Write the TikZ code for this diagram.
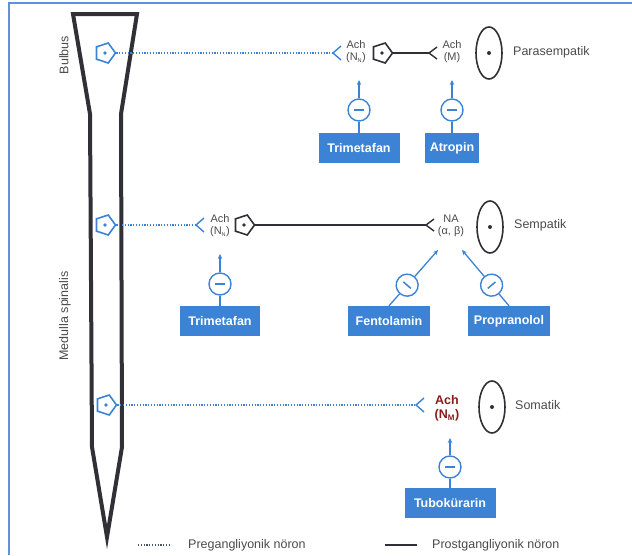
\documentclass[tikz,border=0pt]{standalone}
\usepackage{fontspec}
\setmainfont{Liberation Sans}
\usetikzlibrary{shapes.geometric,arrows.meta,calc}
\definecolor{myblue}{HTML}{3C83D6}
\definecolor{frameblue}{HTML}{5E93DC}
\definecolor{cordc}{HTML}{303036}
\definecolor{txt}{HTML}{4A4A4A}
\definecolor{darkred}{HTML}{8B1A1A}
\begin{document}
\begin{tikzpicture}[x=1pt,y=-1pt,
  pent/.style={regular polygon, regular polygon sides=5, shape border rotate=-90, draw, line width=1.6pt, minimum size=21pt, inner sep=0pt},
  bpent/.style={pent, draw=myblue},
  kpent/.style={pent, draw=cordc},
  preline/.style={myblue, line width=1.3pt, dash pattern=on 1.1pt off 1.7pt},
  postline/.style={cordc, line width=1.3pt},
  rec/.style={line width=1.4pt},
  lbl/.style={text=txt, font=\fontsize{11}{13}\selectfont, align=center, inner sep=0pt},
  drug/.style={fill=myblue, text=white, font=\bfseries\fontsize{12.5}{14}\selectfont, minimum height=30pt, inner sep=0pt},
  inh/.style={circle, draw=myblue, line width=1.4pt, minimum size=22pt, inner sep=0pt, text=myblue},
  inhl/.style={myblue, line width=1.3pt},
  inha/.style={myblue, line width=1.3pt, -{Stealth[length=5pt,width=4.5pt]}},
  organ/.style={ellipse, draw=cordc, line width=1.6pt, minimum width=26pt, minimum height=52pt, inner sep=0pt},
  side/.style={text=txt, font=\fontsize{12.5}{14}\selectfont, inner sep=0pt}
]
\useasboundingbox (0,0) rectangle (632,555);
% frame
\draw[frameblue, line width=2pt] (9,555) -- (9,3) -- (632,3);
% spinal cord
\draw[cordc, line width=4pt, line join=miter] (73,14) -- (137,14) -- (121,114) -- (122,447) -- (107,537) -- (92,447) -- (90,114) -- cycle;
\node[side, rotate=90] (bulbus) at (64,55) {Bulbus};
\node[side, rotate=90] (medulla) at (65,316) {Medulla spinalis};

% ---------- Row 1 : Parasempatik ----------
\node[bpent] (p1) at (105,53) {};
\fill[myblue] (p1.center) circle (1.9pt);
\coordinate (r1) at (333,53);
\draw[preline] (p1.east) -- (r1);
\draw[myblue, rec] ($(r1)+(8,-7)$) -- (r1) -- ($(r1)+(8,7)$);
\node[lbl] (ach1) at (356,52) {Ach\\[-1pt](N\textsubscript{\fontsize{5.5}{6}\selectfont N})};
\node[kpent] (g1) at (382,53) {};
\fill[cordc] (g1.center) circle (1.9pt);
\coordinate (m1) at (429,53);
\draw[postline] (g1.east) -- (m1);
\draw[cordc, rec] ($(m1)+(8,-6)$) -- (m1) -- ($(m1)+(8,6)$);
\node[lbl] (achm) at (452,52) {Ach\\[-1pt](M)};
\node[organ] (o1) at (489,53) {};
\fill[cordc] (o1.center) circle (2pt);
\node[side, anchor=west] (para) at (513,52) {Parasempatik};

\node[drug, minimum width=81pt] (trim1) at (359,148) {Trimetafan};
\node[drug, minimum width=54pt] (atro) at (452,148) {Atropin};
\node[inh] (c1) at (359,110) {\rule[-0.75pt]{10pt}{1.5pt}};
\node[inh] (c2) at (452,110) {\rule[-0.75pt]{10pt}{1.5pt}};
\coordinate (t1) at (359,80);
\coordinate (t2) at (452,80);
\draw[inhl] (trim1.north) -- (c1.south);
\draw[inha] (c1.north) -- (t1);
\draw[inhl] (atro.north) -- (c2.south);
\draw[inha] (c2.north) -- (t2);

% ---------- Row 2 : Sempatik ----------
\node[bpent] (p2) at (105,225) {};
\fill[myblue] (p2.center) circle (1.9pt);
\coordinate (r2) at (196,225);
\draw[preline] (p2.east) -- (r2);
\draw[myblue, rec] ($(r2)+(8,-7)$) -- (r2) -- ($(r2)+(8,7)$);
\node[lbl] (ach2) at (220,226) {Ach\\[-1pt](N\textsubscript{\fontsize{5.5}{6}\selectfont N})};
\node[kpent] (g2) at (244,225) {};
\fill[cordc] (g2.center) circle (1.9pt);
\coordinate (m2) at (426,225);
\draw[postline] (g2.east) -- (m2);
\draw[cordc, rec] ($(m2)+(8,-6)$) -- (m2) -- ($(m2)+(8,6)$);
\node[lbl] (na) at (451,226) {NA\\[-1pt](α, β)};
\node[organ] (o2) at (490,227) {};
\fill[cordc] (o2.center) circle (2pt);
\node[side, anchor=west] (semp) at (514,225) {Sempatik};

\node[drug, minimum width=80pt] (trim2) at (220,321) {Trimetafan};
\node[inh] (c3) at (220,284) {\rule[-0.75pt]{10pt}{1.5pt}};
\coordinate (t3) at (220,254);
\draw[inhl] (trim2.north) -- (c3.south);
\draw[inha] (c3.north) -- (t3);

\node[drug, minimum width=82pt] (fent) at (389,321) {Fentolamin};
\node[drug, minimum width=82pt] (prop) at (509,321) {Propranolol};
\coordinate (t4) at (438,250);
\coordinate (t5) at (462,250);
\node[inh, rotate=-41] (c4) at ($(fent.north)!0.37!(t4)$) {\rule[-0.75pt]{10pt}{1.5pt}};
\node[inh, rotate=40] (c5) at ($(prop.north)!0.37!(t5)$) {\rule[-0.75pt]{10pt}{1.5pt}};
\draw[inhl] (fent.north) -- (c4);
\draw[inha] (c4) -- (t4);
\draw[inhl] (prop.north) -- (c5);
\draw[inha] (c5) -- (t5);

% ---------- Row 3 : Somatik ----------
\node[bpent] (p3) at (106,405) {};
\fill[myblue] (p3.center) circle (1.9pt);
\coordinate (r3) at (416,405);
\draw[preline] (p3.east) -- (r3);
\draw[myblue, rec] ($(r3)+(8,-7)$) -- (r3) -- ($(r3)+(8,7)$);
\node[lbl, text=darkred, font=\bfseries\fontsize{12.5}{15}\selectfont] (ach3) at (447,408) {Ach\\[-1pt](N\textsubscript{\fontsize{8}{9}\selectfont M})};
\node[organ] (o3) at (492,407) {};
\fill[cordc] (o3.center) circle (2pt);
\node[side, anchor=west] (soma) at (515,405) {Somatik};

\node[drug, minimum width=91pt] (tubo) at (450,503) {Tubokürarin};
\node[inh] (c6) at (450,467) {\rule[-0.75pt]{10pt}{1.5pt}};
\coordinate (t6) at (450,438);
\draw[inhl] (tubo.north) -- (c6.south);
\draw[inha] (c6.north) -- (t6);

% ---------- Legend ----------
\coordinate (l1) at (138,545);
\coordinate (l2) at (171,545);
\draw[preline, draw=txt!80!myblue] (l1) -- (l2);
\node[side, anchor=west] (leg1) at (188,545) {Pregangliyonik nöron};
\coordinate (l3) at (385,545);
\coordinate (l4) at (417,545);
\draw[postline] (l3) -- (l4);
\node[side, anchor=west] (leg2) at (432,545) {Prostgangliyonik nöron};
\end{tikzpicture}
\end{document}
